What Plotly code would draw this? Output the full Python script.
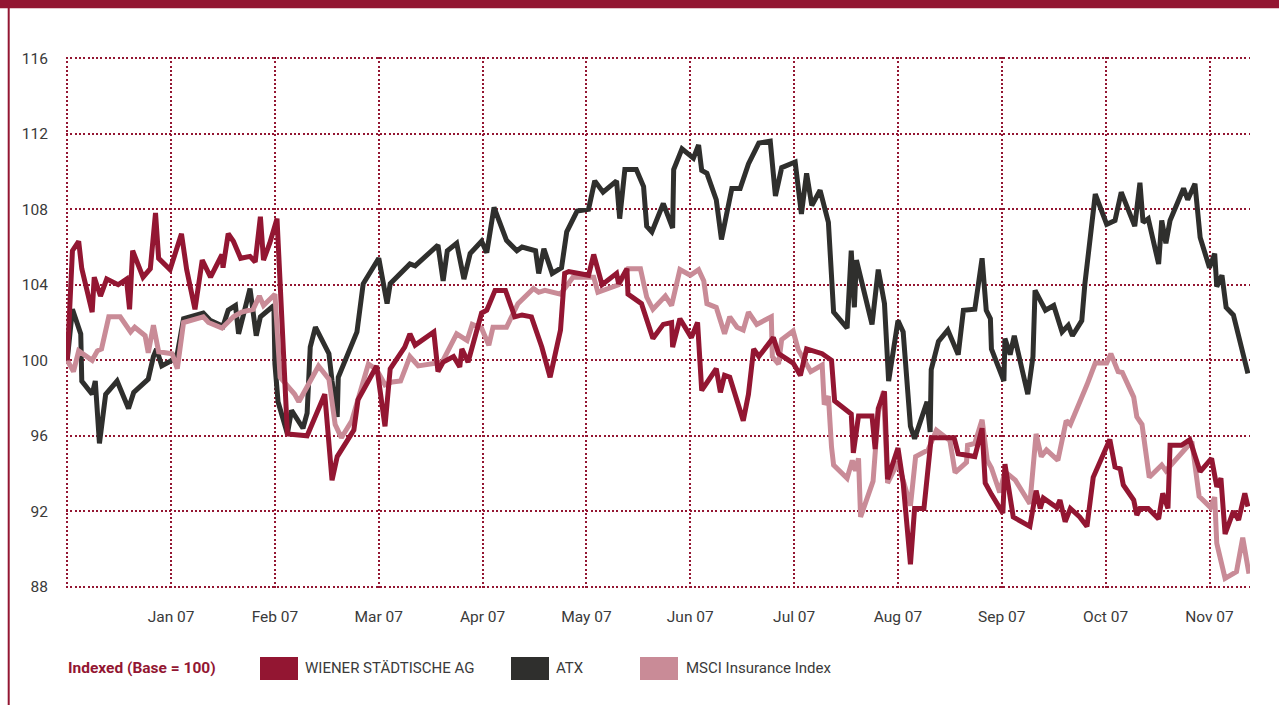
import plotly.graph_objects as go

# ---------------- data ----------------
# x values are "months since 1 Dec 2006" (0 = Dec 06, 1 = Jan 07, ...)
MONTH_TICKS = [0, 1, 2, 3, 4, 5, 6, 7, 8, 9, 10, 11]
MONTH_LABELS = ["", "Jan 07", "Feb 07", "Mar 07", "Apr 07", "May 07", "Jun 07",
                "Jul 07", "Aug 07", "Sep 07", "Oct 07", "Nov 07"]
Y_TICKS = [88, 92, 96, 100, 104, 108, 112, 116]

WS_T = [0, 0.05, 0.11, 0.14, 0.24, 0.26, 0.32, 0.38, 0.49, 0.57,
        0.60, 0.63, 0.73, 0.80, 0.85, 0.88, 0.99, 1.10, 1.15, 1.23,
        1.30, 1.38, 1.49, 1.50, 1.55, 1.60, 1.67, 1.76, 1.81, 1.86,
        1.89, 1.95, 2.02, 2.12, 2.31, 2.36, 2.48, 2.55, 2.60, 2.76,
        2.80, 2.98, 3.06, 3.11, 3.25, 3.30, 3.35, 3.53, 3.57, 3.62,
        3.72, 3.78, 3.80, 3.86, 3.99, 4.04, 4.12, 4.22, 4.31, 4.38,
        4.47, 4.57, 4.65, 4.75, 4.79, 4.83, 5.02, 5.07, 5.15, 5.29,
        5.31, 5.39, 5.40, 5.53, 5.60, 5.64, 5.74, 5.82, 5.83, 5.90,
        6.01, 6.07, 6.11, 6.25, 6.29, 6.33, 6.38, 6.51, 6.56, 6.61,
        6.66, 6.80, 6.85, 6.99, 7.06, 7.12, 7.27, 7.36, 7.39, 7.55,
        7.57, 7.62, 7.75, 7.78, 7.81, 7.87, 7.90, 8.00, 8.05, 8.12,
        8.16, 8.25, 8.32, 8.54, 8.58, 8.74, 8.81, 8.84, 8.90, 9.01,
        9.03, 9.11, 9.27, 9.33, 9.37, 9.40, 9.53, 9.56, 9.61, 9.66,
        9.75, 9.82, 9.88, 10.04, 10.09, 10.14, 10.17, 10.27, 10.30, 10.33,
        10.41, 10.51, 10.55, 10.60, 10.62, 10.73, 10.81, 10.91, 11.02, 11.07,
        11.11, 11.15, 11.23, 11.28, 11.34, 11.37]
WS_V = [100.0, 105.8, 106.3, 104.85, 102.55, 104.4, 103.4, 104.3, 104.0, 104.3,
        102.7, 105.8, 104.4, 104.85, 107.8, 105.4, 104.8, 106.7, 104.8, 102.7,
        105.3, 104.4, 105.6, 104.9, 106.7, 106.3, 105.4, 105.5, 105.2, 107.6,
        105.3, 106.2, 107.5, 96.1, 96.0, 96.65, 98.2, 93.65, 94.9, 96.3,
        97.9, 99.7, 96.5, 99.55, 100.7, 101.4, 100.8, 101.5, 99.4, 99.9,
        100.2, 99.65, 100.6, 99.9, 102.5, 102.65, 103.7, 103.7, 102.3, 102.4,
        102.3, 100.7, 99.1, 101.6, 104.6, 104.7, 104.5, 105.6, 104.0, 104.6,
        104.05, 104.85, 103.5, 103.0, 101.9, 101.15, 101.9, 102.0, 100.7, 102.2,
        101.2, 102.0, 98.4, 99.55, 98.3, 99.2, 99.1, 96.8, 98.2, 100.6,
        100.2, 101.2, 100.35, 99.85, 99.2, 100.6, 100.35, 100.0, 97.85, 97.15,
        95.1, 97.05, 97.05, 95.3, 97.45, 98.35, 93.7, 95.35, 93.5, 89.2,
        92.15, 92.15, 95.9, 95.9, 95.05, 94.9, 96.4, 93.5, 92.9, 91.9,
        94.5, 91.7, 91.2, 93.1, 92.15, 92.7, 92.2, 92.6, 91.45, 92.15,
        91.7, 91.2, 93.8, 95.8, 94.35, 94.25, 93.4, 92.6, 91.8, 92.15,
        92.15, 91.6, 92.95, 92.15, 95.5, 95.5, 95.8, 94.1, 94.8, 93.3,
        93.75, 90.8, 92.0, 91.55, 92.95, 92.25]

ATX_T = [0, 0.05, 0.13, 0.14, 0.24, 0.27, 0.31, 0.37, 0.48, 0.53,
         0.59, 0.64, 0.78, 0.83, 0.86, 0.91, 1.01, 1.06, 1.12, 1.31,
         1.38, 1.50, 1.55, 1.62, 1.65, 1.71, 1.76, 1.82, 1.86, 1.99,
         2.00, 2.03, 2.12, 2.16, 2.27, 2.31, 2.34, 2.39, 2.52, 2.55,
         2.60, 2.61, 2.79, 2.85, 3.00, 3.08, 3.11, 3.30, 3.35, 3.57,
         3.62, 3.66, 3.75, 3.82, 3.88, 3.99, 4.04, 4.11, 4.23, 4.33,
         4.38, 4.51, 4.54, 4.59, 4.67, 4.76, 4.81, 4.91, 5.02, 5.08,
         5.16, 5.29, 5.32, 5.37, 5.48, 5.55, 5.58, 5.63, 5.74, 5.83,
         5.84, 5.92, 6.03, 6.08, 6.11, 6.16, 6.25, 6.30, 6.40, 6.48,
         6.56, 6.66, 6.77, 6.82, 6.88, 7.01, 7.07, 7.12, 7.17, 7.25,
         7.33, 7.38, 7.51, 7.55, 7.58, 7.60, 7.75, 7.81, 7.87, 7.91,
         8.00, 8.05, 8.12, 8.16, 8.28, 8.31, 8.32, 8.39, 8.48, 8.58,
         8.63, 8.74, 8.81, 8.85, 8.89, 8.90, 9.02, 9.03, 9.08, 9.12,
         9.25, 9.30, 9.32, 9.42, 9.50, 9.58, 9.64, 9.68, 9.77, 9.80,
         9.90, 10.01, 10.09, 10.15, 10.28, 10.33, 10.36, 10.41, 10.51, 10.54,
         10.58, 10.62, 10.75, 10.79, 10.86, 10.91, 11.00, 11.05, 11.07, 11.12,
         11.16, 11.23, 11.37]
ATX_V = [100.0, 102.7, 101.4, 98.9, 98.2, 98.9, 95.6, 98.2, 98.9, 98.2,
         97.45, 98.3, 99.0, 100.2, 100.6, 99.7, 100.0, 100.35, 102.2, 102.5,
         102.1, 101.8, 102.65, 102.9, 101.4, 102.7, 103.8, 101.3, 102.3, 102.9,
         99.8, 97.8, 96.1, 97.35, 96.4, 97.2, 100.7, 101.75, 100.35, 98.9,
         97.0, 99.1, 101.5, 104.05, 105.4, 103.0, 104.05, 105.1, 105.0, 106.1,
         104.2, 105.8, 106.2, 104.3, 105.65, 106.3, 105.7, 108.1, 106.35, 105.8,
         106.0, 105.8, 104.6, 105.9, 104.6, 104.9, 106.8, 107.9, 108.0, 109.5,
         108.9, 109.5, 107.5, 110.1, 110.1, 109.2, 107.1, 106.8, 108.3, 107.0,
         110.1, 111.2, 110.7, 111.4, 110.05, 109.9, 108.5, 106.4, 109.1, 109.1,
         110.4, 111.5, 111.6, 108.7, 110.2, 110.5, 107.75, 109.9, 108.2, 109.0,
         107.3, 102.55, 101.7, 105.8, 102.8, 105.3, 101.9, 104.8, 103.0, 98.9,
         102.1, 101.5, 96.5, 95.85, 97.8, 96.2, 99.5, 101.0, 101.6, 100.3,
         102.65, 102.7, 105.4, 102.65, 102.2, 100.6, 98.9, 101.15, 100.3, 101.3,
         98.2, 100.2, 103.7, 102.65, 102.9, 101.5, 101.85, 101.3, 102.1, 104.05,
         108.8, 107.2, 107.4, 108.9, 107.1, 109.4, 107.3, 107.5, 105.1, 107.4,
         106.2, 107.4, 109.1, 108.5, 109.35, 106.5, 104.9, 105.65, 103.9, 104.5,
         102.8, 102.4, 99.3]

MSCI_T = [0, 0.06, 0.11, 0.24, 0.29, 0.33, 0.40, 0.51, 0.61, 0.65,
          0.75, 0.78, 0.83, 0.88, 1.01, 1.06, 1.12, 1.31, 1.36, 1.49,
          1.60, 1.68, 1.79, 1.85, 1.89, 2.00, 2.05, 2.19, 2.23, 2.29,
          2.42, 2.52, 2.58, 2.64, 2.74, 2.90, 2.98, 3.06, 3.13, 3.21,
          3.30, 3.38, 3.61, 3.75, 3.85, 3.90, 3.99, 4.06, 4.10, 4.23,
          4.34, 4.49, 4.54, 4.60, 4.75, 4.87, 5.07, 5.11, 5.31, 5.40,
          5.52, 5.58, 5.64, 5.76, 5.82, 5.90, 6.00, 6.08, 6.13, 6.16,
          6.25, 6.33, 6.38, 6.45, 6.51, 6.56, 6.64, 6.78, 6.79, 6.85,
          6.88, 6.99, 7.04, 7.16, 7.27, 7.29, 7.33, 7.36, 7.38, 7.51,
          7.56, 7.59, 7.62, 7.64, 7.76, 7.81, 7.86, 7.90, 8.00, 8.12,
          8.17, 8.29, 8.37, 8.50, 8.55, 8.66, 8.67, 8.74, 8.81, 8.86,
          8.90, 8.98, 9.03, 9.13, 9.27, 9.33, 9.38, 9.43, 9.54, 9.62,
          9.66, 9.82, 9.90, 10.01, 10.05, 10.12, 10.16, 10.27, 10.30, 10.35,
          10.42, 10.54, 10.58, 10.83, 10.90, 11.01, 11.05, 11.07, 11.15, 11.26,
          11.32, 11.38]
MSCI_V = [100.0, 99.4, 100.5, 100.0, 100.5, 100.6, 102.3, 102.3, 101.5, 101.75,
          101.3, 100.4, 101.85, 100.45, 100.35, 99.55, 102.0, 102.3, 102.0, 101.7,
          102.3, 102.55, 102.7, 103.4, 102.9, 103.5, 99.1, 98.2, 97.8, 98.4,
          99.7, 99.0, 96.6, 95.9, 96.8, 99.8, 99.5, 98.7, 98.85, 98.9,
          100.2, 99.7, 99.9, 101.4, 101.05, 101.9, 101.7, 100.8, 101.75, 101.75,
          103.0, 103.8, 103.6, 103.7, 103.5, 104.4, 104.4, 103.6, 104.0, 104.85,
          104.85, 103.35, 102.7, 103.4, 102.9, 104.8, 104.5, 104.8, 104.2, 103.0,
          102.8, 101.4, 102.3, 101.75, 101.6, 102.55, 101.9, 102.3, 100.2, 99.8,
          101.1, 101.55, 100.55, 99.4, 99.75, 97.65, 98.1, 95.4, 94.45, 93.75,
          94.7, 94.15, 94.8, 91.7, 93.6, 97.25, 98.35, 93.5, 94.6, 92.3,
          94.9, 95.25, 96.3, 95.75, 94.05, 94.6, 95.5, 95.6, 96.85, 94.7,
          94.3, 93.0, 94.1, 93.65, 92.4, 96.1, 94.9, 95.25, 94.7, 96.8,
          96.6, 98.7, 99.85, 99.85, 100.35, 99.4, 99.35, 98.05, 97.0, 96.6,
          93.8, 94.45, 94.15, 95.7, 92.8, 92.2, 92.75, 90.3, 88.45, 88.8,
          90.6, 88.7]

SERIES_NAMES = ["WIENER STÄDTISCHE AG", "ATX", "MSCI Insurance Index"]
LEGEND_TITLE = "Indexed (Base = 100)"

# ---------------- style ----------------
MAROON = "#931632"
DARK = "#2f2f2d"
PINK = "#c98b97"
TEXT = "#3a3a3a"
FONT = "Roboto, Liberation Sans Narrow, sans-serif"

W, H = 1279, 705
# slight padding on the axis ranges so the edge gridlines are drawn
X_RANGE = [-0.012, 11.39]
Y_RANGE = [87.94, 116.06]
ML, MR, MT, MB = 66, 29, 57, 117
PW, PH = W - ML - MR, H - MT - MB


def px(xp):
    return (xp - ML) / PW


def py(yp):
    return (H - MB - yp) / PH


fig = go.Figure()
fig.add_trace(go.Scatter(x=ATX_T, y=ATX_V, mode="lines", name=SERIES_NAMES[1],
                         line=dict(color=DARK, width=5), showlegend=False))
fig.add_trace(go.Scatter(x=MSCI_T, y=MSCI_V, mode="lines", name=SERIES_NAMES[2],
                         line=dict(color=PINK, width=5), showlegend=False))
fig.add_trace(go.Scatter(x=WS_T, y=WS_V, mode="lines", name=SERIES_NAMES[0],
                         line=dict(color=MAROON, width=5), showlegend=False))

grid = dict(showgrid=True, gridcolor=MAROON, gridwidth=2, griddash="2px,2.3px",
            zeroline=False, showline=False, ticks="")

fig.update_xaxes(range=X_RANGE, tickmode="array", tickvals=MONTH_TICKS,
                 ticktext=MONTH_LABELS, ticklabelstandoff=17,
                 tickfont=dict(family=FONT, size=15.5, color=TEXT), **grid)
fig.update_yaxes(range=Y_RANGE, tickmode="array", tickvals=Y_TICKS,
                 ticklabelstandoff=17,
                 tickfont=dict(family=FONT, size=15.5, color=TEXT), **grid)

shapes = [
    # top bar
    dict(type="rect", xref="paper", yref="paper", x0=px(0), x1=px(W),
         y0=py(8.3), y1=py(0), fillcolor=MAROON, line=dict(width=0)),
    # left border
    dict(type="rect", xref="paper", yref="paper", x0=px(7.7), x1=px(9.7),
         y0=py(H), y1=py(8), fillcolor=MAROON, line=dict(width=0)),
]
legend_items = [(260, 305, MAROON, SERIES_NAMES[0]),
                (511, 556, DARK, SERIES_NAMES[1]),
                (640, 686, PINK, SERIES_NAMES[2])]
annotations = [dict(xref="paper", yref="paper", x=px(66), y=py(668),
                    xanchor="left", yanchor="middle", showarrow=False,
                    text="<b>" + LEGEND_TITLE + "</b>",
                    font=dict(family=FONT, size=15.5, color=MAROON))]
for sx, tx, col, name in legend_items:
    shapes.append(dict(type="rect", xref="paper", yref="paper",
                       x0=px(sx), x1=px(sx + 38), y0=py(680), y1=py(657),
                       fillcolor=col, line=dict(width=0)))
    annotations.append(dict(xref="paper", yref="paper", x=px(tx - 2), y=py(668),
                            xanchor="left", yanchor="middle", showarrow=False,
                            text=name, font=dict(family=FONT, size=15, color=TEXT)))

fig.update_layout(width=W, height=H, margin=dict(l=ML, r=MR, t=MT, b=MB),
                  paper_bgcolor="white", plot_bgcolor="white",
                  shapes=shapes, annotations=annotations, showlegend=False)

fig.write_html("out.html",
               config={"displayModeBar": False},
               post_script="document.body.style.margin='0';"
                           "document.body.style.overflow='hidden';")
